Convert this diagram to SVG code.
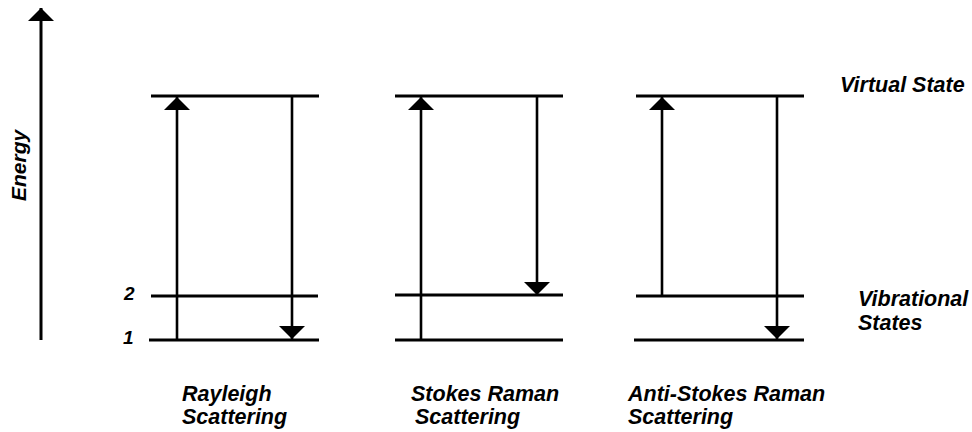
<svg xmlns="http://www.w3.org/2000/svg" width="972" height="432" viewBox="0 0 972 432">
<defs>
<style>
.lvl{stroke:#000;stroke-width:3;fill:none}
.arr{stroke:#000;stroke-width:2.6;fill:none;marker-end:url(#ah)}
.t{font-family:"Liberation Sans",Arial,sans-serif;font-weight:bold;font-style:italic;fill:#000}
.lab{font-size:21.5px}
.num{font-size:19px}
</style>
<marker id="ah" viewBox="0 0 13 26" refX="13" refY="13" markerWidth="13" markerHeight="26" markerUnits="userSpaceOnUse" orient="auto">
<path d="M0,0 L13,13 L0,26 Z" fill="#000"/>
</marker>
</defs>
<rect width="972" height="432" fill="#fff"/>

<g id="energy-axis">
<line x1="41" y1="340" x2="41" y2="8" class="arr" style="stroke-width:3"/>
<text class="t" style="font-size:21px" transform="translate(26,201) rotate(-90)">Energy</text>
</g>

<g id="rayleigh">
<line class="lvl" x1="151" y1="96" x2="319" y2="96"/>
<line class="lvl" x1="151" y1="296" x2="318" y2="296"/>
<line class="lvl" x1="149" y1="340" x2="319" y2="340"/>
<text class="t lab" x="182" y="401">Rayleigh</text>
<text class="t lab" x="182" y="424">Scattering</text>
</g>

<g id="stokes">
<line class="lvl" x1="395" y1="96" x2="563" y2="96"/>
<line class="lvl" x1="395" y1="295" x2="563" y2="295"/>
<line class="lvl" x1="395" y1="340" x2="563" y2="340"/>
<text class="t lab" x="411" y="401">Stokes Raman</text>
<text class="t lab" x="415" y="424">Scattering</text>
</g>

<g id="anti-stokes">
<line class="lvl" x1="636" y1="96" x2="804" y2="96"/>
<line class="lvl" x1="636" y1="296" x2="804" y2="296"/>
<line class="lvl" x1="634" y1="340" x2="804" y2="340"/>
<text class="t lab" x="628" y="401">Anti-Stokes Raman</text>
<text class="t lab" x="628" y="424">Scattering</text>
</g>

<g id="level-labels">
<text class="t lab" x="840" y="92">Virtual State</text>
<text class="t lab" x="858" y="306">Vibrational</text>
<text class="t lab" x="858" y="330">States</text>
<text class="t num" x="124" y="300">2</text>
<text class="t num" x="123" y="344">1</text>
</g>

<g id="connectors">
<line class="arr" x1="177" y1="340" x2="177" y2="97"/>
<line class="arr" x1="292" y1="96" x2="292" y2="339"/>
<line class="arr" x1="421" y1="340" x2="421" y2="97"/>
<line class="arr" x1="537" y1="96" x2="537" y2="295"/>
<line class="arr" x1="662" y1="296" x2="662" y2="97"/>
<line class="arr" x1="777" y1="96" x2="777" y2="339"/>
</g>
</svg>
